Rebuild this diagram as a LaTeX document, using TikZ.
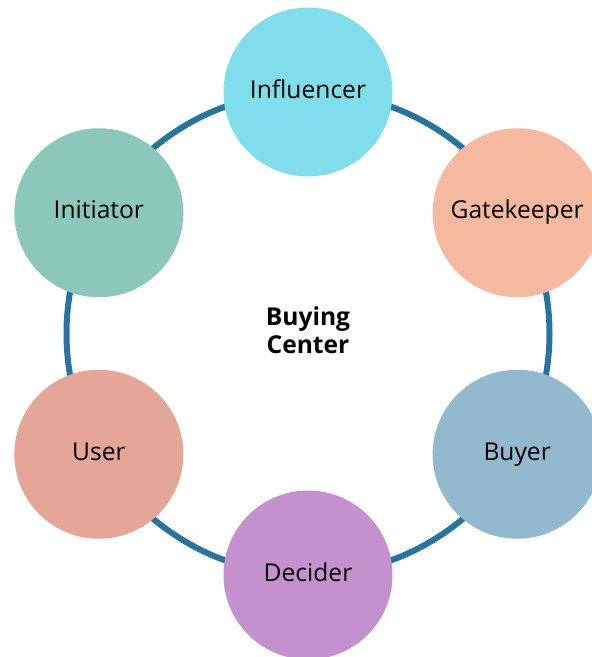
\documentclass[tikz,border=0pt]{standalone}
\usepackage{fontspec}
\setmainfont{Open Sans}
\definecolor{ringc}{RGB}{37,117,160}
\definecolor{cInfl}{RGB}{128,221,236}
\definecolor{cGate}{RGB}{245,185,160}
\definecolor{cBuyer}{RGB}{147,185,206}
\definecolor{cDecider}{RGB}{196,144,206}
\definecolor{cUser}{RGB}{230,166,151}
\definecolor{cInit}{RGB}{140,200,185}
\tikzset{
  role/.style={circle, minimum size=169pt, inner sep=0pt, text height=18pt, text depth=6pt,
    font=\fontsize{24.6}{29}\selectfont, text=black},
  ring/.style={draw=ringc, line width=6pt}
}
\begin{document}
\begin{tikzpicture}[x=1pt,y=-1pt]
\useasboundingbox (0,0) rectangle (592,657);
\clip (0,0) rectangle (592,657);
\coordinate (c) at (308,333.5);
\draw[ring] (c) circle[radius=241.5];
\node[role, fill=cInfl]    (infl) at ([shift={(-90:241.5)}]c)  {Influencer};
\node[role, fill=cGate]    (gate) at ([shift={(-30:241.5)}]c)  {Gatekeeper};
\node[role, fill=cBuyer]   (buyer) at ([shift={(30:241.5)}]c) {Buyer};
\node[role, fill=cDecider] (dec) at ([shift={(90:241.5)}]c)  {Decider};
\node[role, fill=cUser]    (user) at ([shift={(150:241.5)}]c) {User};
\node[role, fill=cInit]    (init) at ([shift={(-150:241.5)}]c)  {Initiator};
\node[font=\bfseries\fontsize{24.6}{28.3}\selectfont, align=center] (bc) at ([yshift=3pt]c) {Buying\\Center};
\end{tikzpicture}
\end{document}
